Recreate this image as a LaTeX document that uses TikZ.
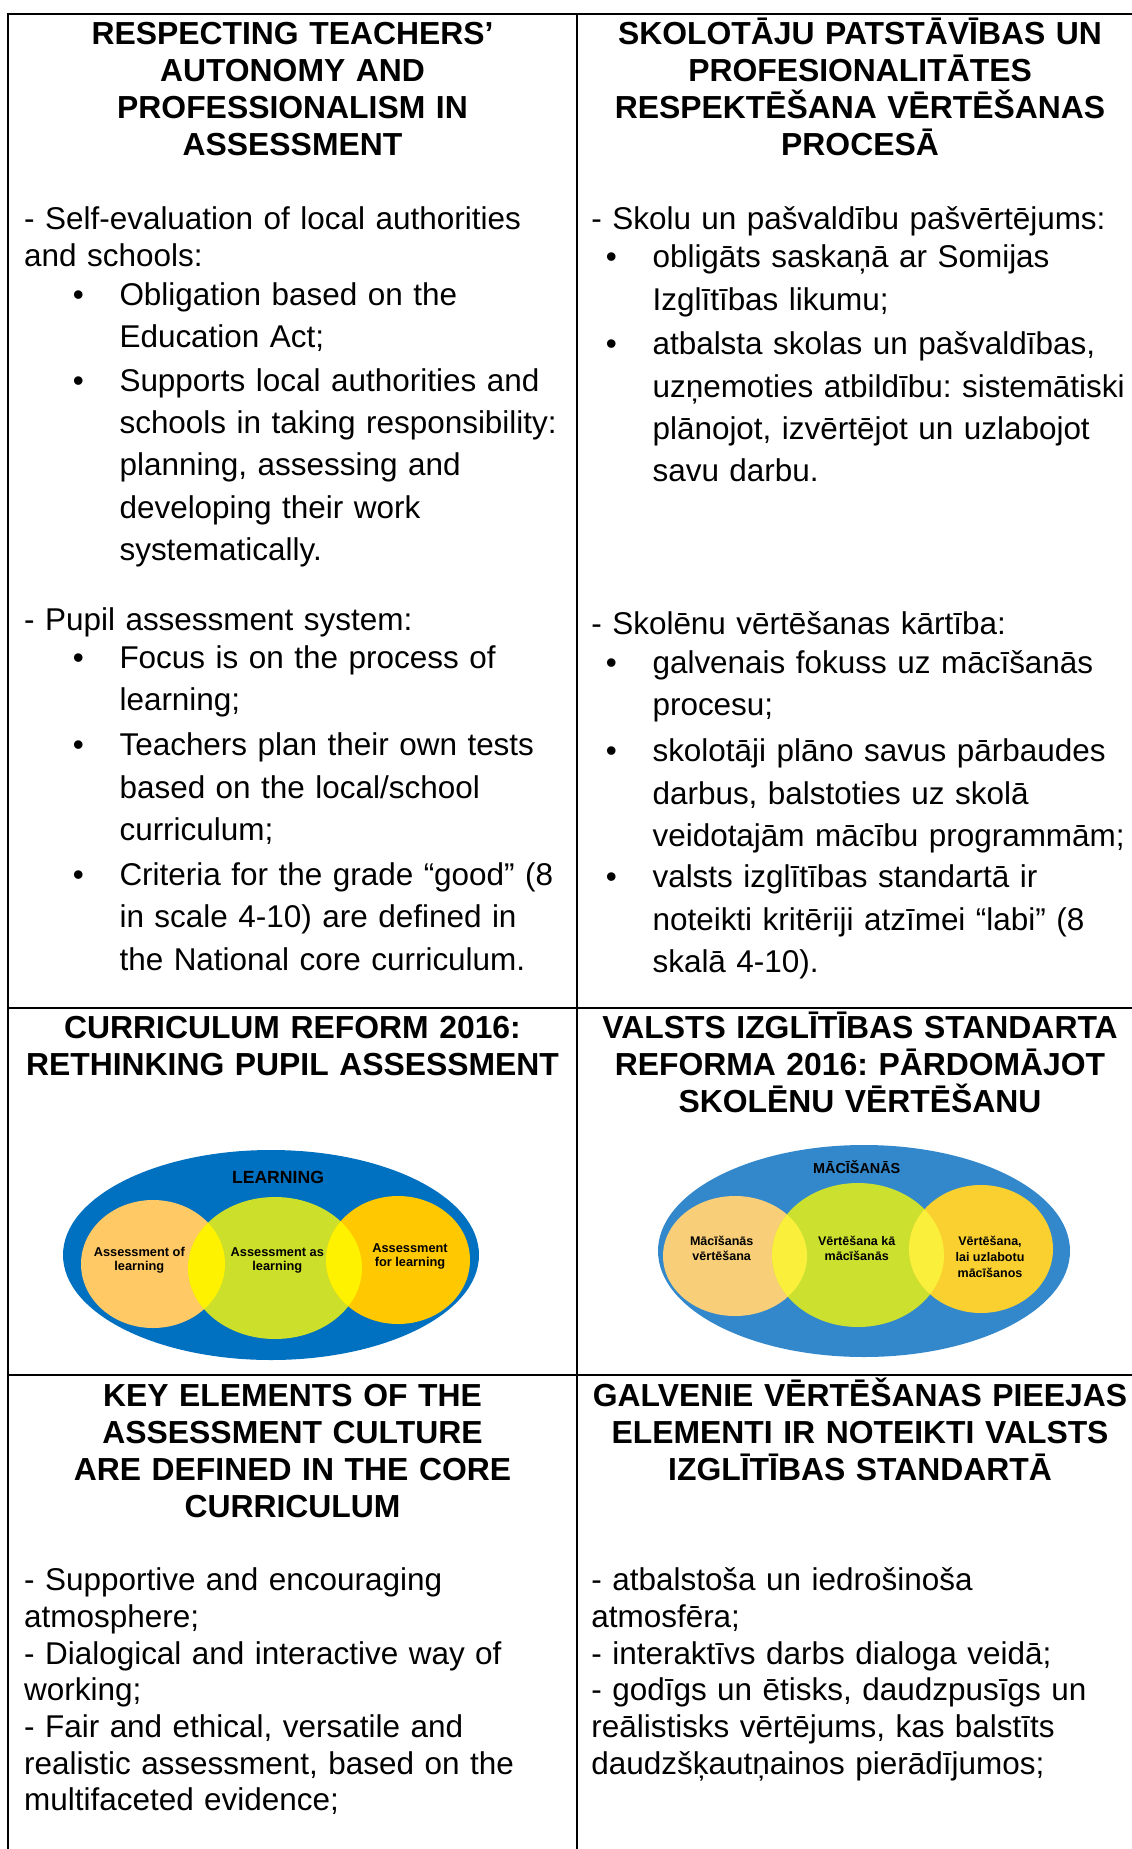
\documentclass[tikz,border=0pt]{standalone}
\usepackage{fontspec}
\setmainfont{Liberation Sans}
\frenchspacing

\definecolor{learnblue}{HTML}{0070C0}
\definecolor{oforange}{HTML}{FFC966}
\definecolor{asgreen}{HTML}{CCDF2A}
\definecolor{forgold}{HTML}{FFC800}
\definecolor{overlap}{HTML}{FFF200}
\definecolor{lvblue}{HTML}{3388CC}
\definecolor{lvorange}{HTML}{F8CE78}
\definecolor{lvgreen}{HTML}{CCE030}
\definecolor{lvgold}{HTML}{F9D030}
\definecolor{lvoverlap}{HTML}{FAEF3A}

\newcommand{\dotitem}{\llap{\textbullet\hspace{13.4pt}}}

\begin{document}
\begin{tikzpicture}[x=0.375pt,y=-0.375pt,
        rule/.style={line width=0.75pt},
        head/.style={font=\bfseries\fontsize{11.95}{13.9}\selectfont,align=center,text width=230pt,anchor=base,inner sep=0pt},
        para/.style={font=\fontsize{11.8}{13.75}\selectfont,align=left,text width=210pt,anchor=base west,inner sep=0pt},
        point/.style={font=\fontsize{11.8}{15.9}\selectfont,align=left,text width=200pt,anchor=base west,inner sep=0pt},
        tag/.style={font=\bfseries\fontsize{4.8}{5.25}\selectfont,align=center,inner sep=0pt},
        lvtag/.style={font=\bfseries\fontsize{4.7}{5.9}\selectfont,align=center,inner sep=0pt}]

    \fill[white,use as bounding box] (0,0) rectangle (1132,1849);

    % table rules
    \draw[rule] (8,1849) -- (8,14) -- (1132,14);
    \draw[rule] (577,14) -- (577,1849);
    \draw[rule] (8,1008) -- (1132,1008);
    \draw[rule] (8,1375) -- (1132,1375);

    % first row
    \node[head] (h1) at (292.5,44.7) {RESPECTING TEACHERS’\\AUTONOMY AND\\PROFESSIONALISM IN\\ASSESSMENT};
    \node[head] (h2) at (860,44.7) {SKOLOTĀJU PATSTĀVĪBAS UN\\PROFESIONALITĀTES\\RESPEKTĒŠANA VĒRTĒŠANAS\\PROCESĀ};

    \node[para] (p1) at (23.6,229.7) {- Self-evaluation of local authorities\\and schools:};
    \node[point] (i1) at (119,305.2) {\dotitem Obligation based on the\\Education Act;};
    \node[point] (i2) at (119,391.2) {\dotitem Supports local authorities and\\schools in taking responsibility:\\planning, assessing and\\developing their work\\systematically.};
    \node[para] (p2) at (23.6,630.7) {- Pupil assessment system:};
    \node[point] (i3) at (119,668.2) {\dotitem Focus is on the process of\\learning;};
    \node[point] (i4) at (119,755.7) {\dotitem Teachers plan their own tests\\based on the local/school\\curriculum;};
    \node[point] (i5) at (119,885.2) {\dotitem Criteria for the grade “good” (8\\in scale 4-10) are defined in\\the National core curriculum.};

    \node[para] (p3) at (590.8,229.7) {- Skolu un pašvaldību pašvērtējums:};
    \node[point] (i6) at (652,267.7) {\dotitem obligāts saskaņā ar Somijas\\Izglītības likumu;};
    \node[point] (i7) at (652,354.7) {\dotitem atbalsta skolas un pašvaldības,\\uzņemoties atbildību: sistemātiski\\plānojot, izvērtējot un uzlabojot\\savu darbu.};
    \node[para] (p4) at (590.8,634.2) {- Skolēnu vērtēšanas kārtība:};
    \node[point] (i8) at (652,673.2) {\dotitem galvenais fokuss uz mācīšanās\\procesu;};
    \node[point] (i9) at (652,761.7) {\dotitem skolotāji plāno savus pārbaudes\\darbus, balstoties uz skolā\\veidotajām mācību programmām;};
    \node[point] (i10) at (652,887.7) {\dotitem valsts izglītības standartā ir\\noteikti kritēriji atzīmei “labi” (8\\skalā 4-10).};

    % second row
    \node[head] (h3) at (292.5,1038.7) {CURRICULUM REFORM 2016:\\RETHINKING PUPIL ASSESSMENT};
    \node[head] (h4) at (860,1038.7) {VALSTS IZGLĪTĪBAS STANDARTA\\REFORMA 2016: PĀRDOMĀJOT\\SKOLĒNU VĒRTĒŠANU};

    \fill[learnblue] (271,1255) ellipse [x radius=208, y radius=105];
    \fill[oforange] (153,1264) ellipse [x radius=72, y radius=64];
    \fill[asgreen] (275,1268) ellipse [x radius=87, y radius=71];
    \fill[forgold] (398,1260) ellipse [x radius=72, y radius=64];
    \begin{scope}
        \clip (275,1268) ellipse [x radius=87, y radius=71];
        \fill[overlap] (153,1264) ellipse [x radius=72, y radius=64];
        \fill[overlap] (398,1260) ellipse [x radius=72, y radius=64];
    \end{scope}
    \node[font=\bfseries\fontsize{6.6}{7}\selectfont] (v1) at (278,1177) {LEARNING};
    \node[tag] (v2) at (139.3,1260) {Assessment of\\learning};
    \node[tag] (v3) at (277.3,1260.7) {Assessment as\\learning};
    \node[tag] (v4) at (410,1256) {Assessment\\for learning};

    \fill[lvblue] (864,1251) ellipse [x radius=206, y radius=106];
    \fill[lvorange] (735,1256) ellipse [x radius=72, y radius=60];
    \fill[lvgreen] (858,1255) ellipse [x radius=86, y radius=72];
    \fill[lvgold] (981,1249) ellipse [x radius=72, y radius=64];
    \begin{scope}
        \clip (858,1255) ellipse [x radius=86, y radius=72];
        \fill[lvoverlap] (735,1256) ellipse [x radius=72, y radius=60];
        \fill[lvoverlap] (981,1249) ellipse [x radius=72, y radius=64];
    \end{scope}
    \node[font=\bfseries\fontsize{5.4}{6}\selectfont] (v5) at (856.7,1167.3) {MĀCĪŠANĀS};
    \node[lvtag] (v6) at (721.7,1248.3) {Mācīšanās\\vērtēšana};
    \node[lvtag] (v7) at (856.7,1248.3) {Vērtēšana kā\\mācīšanās};
    \node[lvtag] (v8) at (990,1256.7) {Vērtēšana,\\lai uzlabotu\\mācīšanos};

    % third row
    \node[head] (h5) at (292.5,1406.7) {KEY ELEMENTS OF THE\\ASSESSMENT CULTURE\\ARE DEFINED IN THE CORE\\CURRICULUM};
    \node[head] (h6) at (860,1406.7) {GALVENIE VĒRTĒŠANAS PIEEJAS\\ELEMENTI IR NOTEIKTI VALSTS\\IZGLĪTĪBAS STANDARTĀ};

    \node[para] (p5) at (23.6,1590.7) {- Supportive and encouraging\\atmosphere;\\- Dialogical and interactive way of\\working;\\- Fair and ethical, versatile and\\realistic assessment, based on the\\multifaceted evidence;};
    \node[para] (p6) at (590.8,1590.7) {- atbalstoša un iedrošinoša\\atmosfēra;\\- interaktīvs darbs dialoga veidā;\\- godīgs un ētisks, daudzpusīgs un\\reālistisks vērtējums, kas balstīts\\daudzšķautņainos pierādījumos;};
\end{tikzpicture}
\end{document}
